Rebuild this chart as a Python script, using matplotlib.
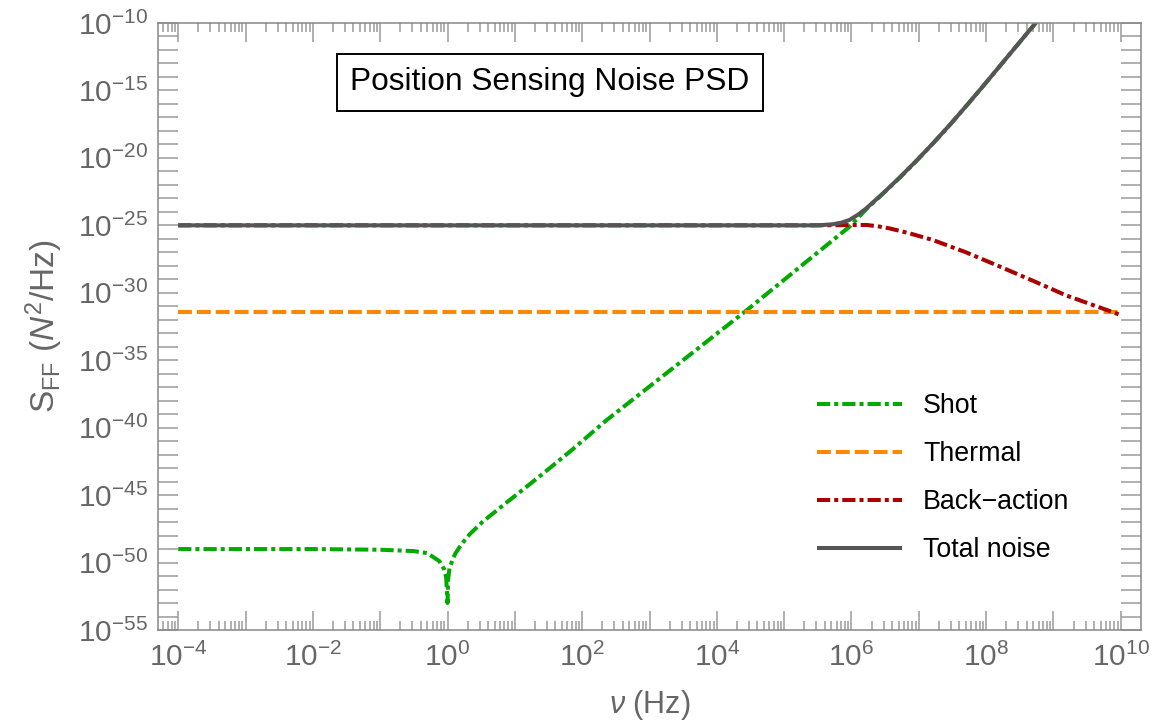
import matplotlib
matplotlib.use("Agg")
import matplotlib.pyplot as plt
import matplotlib.ticker as mticker
from matplotlib.patches import Rectangle
import numpy as np

plt.rcParams['font.family'] = ['Liberation Sans', 'DejaVu Sans']
plt.rcParams['mathtext.fontset'] = 'custom'
plt.rcParams['mathtext.rm'] = 'Liberation Sans'
plt.rcParams['mathtext.it'] = 'Liberation Sans:italic'
plt.rcParams['mathtext.bf'] = 'Liberation Sans:bold'
plt.rcParams['lines.scale_dashes'] = False

# data, as log10(frequency / Hz) and log10(S_FF)
shot_lognu = [-4, -2, -1, -0.5, -0.3, -0.12, -0.05, -0.02, 0.0, 0.01, 0.03, 0.05,
              0.08, 0.12, 0.18, 0.25, 0.33, 0.52, 0.87, 1.37, 1.86, 2.36, 2.82,
              4.43, 5.23, 5.97, 6.22, 6.47, 6.72, 6.97, 7.22, 7.47, 7.72, 7.97,
              8.22, 8.47, 8.74, 8.9]
shot_logS = [-49.0, -49.0, -49.05, -49.15, -49.3, -49.9, -50.5, -51.1, -53.0, -51.2,
             -50.4, -50.15, -49.7, -49.3, -48.85, -48.38, -47.9, -46.98, -45.58,
             -43.6, -41.6, -39.45, -37.65, -31.35, -28.1, -25.1, -23.8, -22.64,
             -21.45, -20.2, -18.88, -17.5, -16.06, -14.59, -13.09, -11.59, -9.97,
             -9.0]

thermal_lognu = [-4, 10]
thermal_logS = [-31.4, -31.4]

back_lognu = [-4, 5.5, 6.0, 6.22, 6.4, 6.56, 6.86, 7.21, 7.70, 8.20, 8.69, 9.19, 10.0]
back_logS = [-25.0, -25.0, -24.98, -24.97, -25.08, -25.22, -25.59, -26.09, -27.0,
             -28.05, -29.1, -30.2, -31.65]

total_lognu = [-4, 5.5, 5.72, 5.85, 5.97, 6.1, 6.22, 6.47, 6.72, 6.97, 7.22, 7.47,
               7.72, 7.97, 8.22, 8.47, 8.74, 8.9]
total_logS = [-25.0, -25.0, -24.92, -24.8, -24.6, -24.2, -23.74, -22.62, -21.43,
              -20.18, -18.87, -17.5, -16.06, -14.59, -13.09, -11.59, -9.97, -9.0]

labels = ["Shot", "Thermal", "Back\u2212action", "Total noise"]
colors = ["#00aa00", "#ff8800", "#aa0000", "#555555"]

fig = plt.figure(figsize=(11.73, 7.25), dpi=100)
ax = fig.add_axes([158 / 1173, 95 / 725, 983 / 1173, 607 / 725])

p = lambda a: 10.0 ** np.asarray(a)
ax.plot(p(shot_lognu), p(shot_logS), color=colors[0], lw=2.9,
        dashes=(9.5, 2.9, 2.9, 2.9), label=labels[0])
ax.plot(p(thermal_lognu), p(thermal_logS), color=colors[1], lw=2.9,
        dashes=(10.0, 3.6), label=labels[1])
ax.plot(p(back_lognu), p(back_logS), color=colors[2], lw=2.9,
        dashes=(9.5, 2.9, 2.9, 2.9), label=labels[2])
ax.plot(p(total_lognu), p(total_logS), color=colors[3], lw=2.9,
        solid_capstyle='butt', label=labels[3])

ax.set_xscale('log')
ax.set_yscale('log')
ax.set_xlim(10 ** -4.3, 10 ** 10.3)
ax.set_ylim(1e-55, 1e-10)

# x ticks: every decade, labels on even decades
ax.xaxis.set_major_locator(mticker.FixedLocator([10.0 ** k for k in range(-5, 12)]))
ax.xaxis.set_minor_locator(mticker.LogLocator(base=10, subs=np.arange(2, 10), numticks=100))
ax.xaxis.set_major_formatter(mticker.FuncFormatter(
    lambda v, pos: r"$10^{%d}$" % round(np.log10(v)) if round(np.log10(v)) % 2 == 0 else ""))
ax.xaxis.set_minor_formatter(mticker.NullFormatter())

# y ticks: labels every 5 decades, plain ticks every decade
ax.yaxis.set_major_locator(mticker.FixedLocator([10.0 ** k for k in range(-55, -9, 5)]))
ax.yaxis.set_minor_locator(mticker.FixedLocator([10.0 ** k for k in range(-55, -9) if k % 5]))
ax.yaxis.set_major_formatter(mticker.FuncFormatter(
    lambda v, pos: r"$10^{%d}$" % round(np.log10(v))))
ax.yaxis.set_minor_formatter(mticker.NullFormatter())

tick_col = "#9a9a9a"
label_col = "#666666"
ax.tick_params(which='both', direction='in', top=True, right=True, colors=tick_col,
               labelcolor=label_col, labelsize=21.5, width=1.1)
ax.tick_params(axis='x', which='major', length=13.7, pad=9)
ax.tick_params(axis='x', which='minor', length=6.5)
ax.tick_params(axis='y', which='both', length=14.2, pad=7)
for s in ax.spines.values():
    s.set_color("#888888")
    s.set_linewidth(1.1)

ax.set_xlabel(r"$\nu$ (Hz)", fontsize=22, color=label_col, labelpad=12)
ax.set_ylabel(r"$\mathrm{S}_{\mathrm{FF}}\ (N^{2}/\mathrm{Hz})$", fontsize=24,
              color=label_col)
ax.yaxis.set_label_coords(-0.095, 0.5)

fig.text(550 / 1173, 1 - 82 / 725, "Position Sensing Noise PSD", fontsize=22.8,
         color="black", ha='center', va='center')
fig.patches.append(Rectangle((337 / 1173, 1 - 111 / 725), 426 / 1173, 57 / 725,
                             transform=fig.transFigure, fill=False,
                             edgecolor="black", linewidth=1.4))

leg = ax.legend(loc='upper left', bbox_to_anchor=(817 / 1173, 1 - 393 / 725),
                bbox_transform=fig.transFigure, frameon=False, fontsize=19.3,
                handlelength=3.17, handletextpad=0.78, labelspacing=0.82,
                borderpad=0, borderaxespad=0)

fig.savefig("out.png", dpi=100)
plt.close()
